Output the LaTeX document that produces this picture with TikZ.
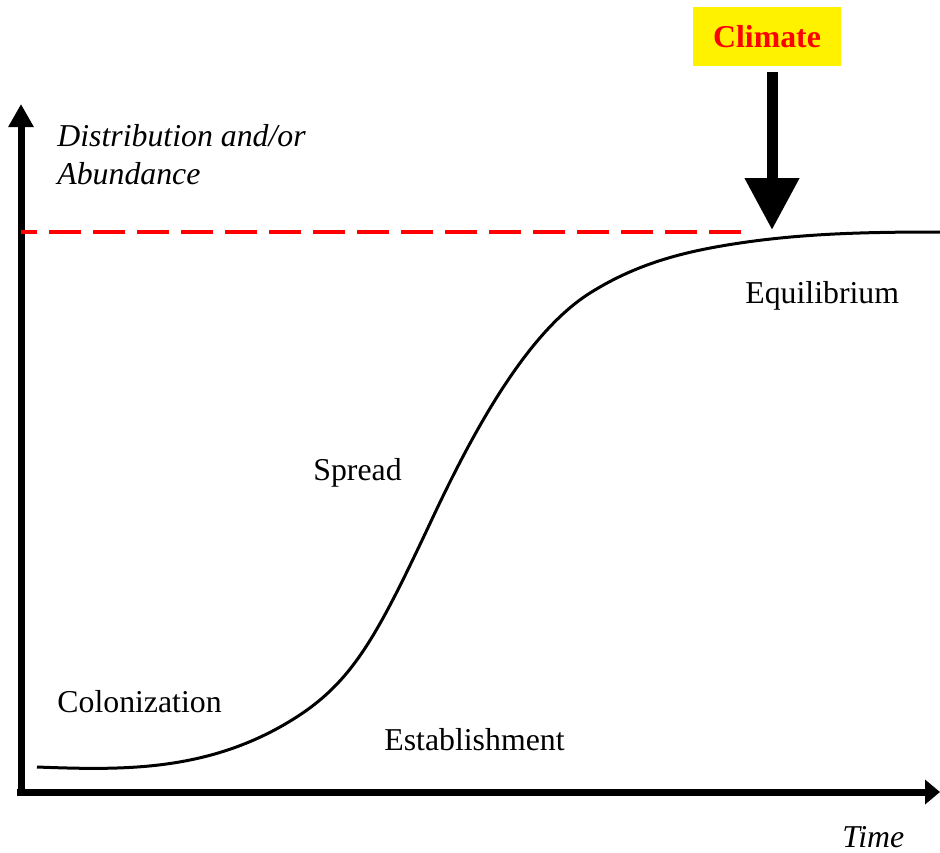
\documentclass[tikz,border=0pt]{standalone}
\usepackage{fontspec}
\setmainfont{Liberation Serif}
\usetikzlibrary{arrows.meta}

\begin{document}
\begin{tikzpicture}[x=0.5pt,y=-0.5pt]
  \tikzset{lbl/.style={anchor=base west, inner sep=0pt, font=\fontsize{15.9}{19}\selectfont},
           axisline/.style={line width=3.5pt}}
  \useasboundingbox (0,0) rectangle (940,852);
  % axes
  \coordinate (origin) at (21,792);
  \coordinate (ytip) at (21,104);
  \coordinate (xtip) at (940,792);
  \draw[axisline, -{Triangle[length=11.5pt,width=12pt]}] ([yshift=-2pt]origin) -- (ytip);
  \draw[axisline, -{Triangle[length=7.5pt,width=12pt]}] ([xshift=-2pt]origin) -- (xtip);
  \node[lbl, font=\fontsize{15.9}{19}\selectfont\itshape] (ylab1) at (57,146) {Distribution and/or};
  \node[lbl, font=\fontsize{15.9}{19}\selectfont\itshape] (ylab2) at (57,184) {Abundance};
  \node[lbl, font=\fontsize{15.9}{19}\selectfont\itshape] (xlab) at (842,847) {Time};
  % equilibrium level
  \coordinate (lvlstart) at (21,232);
  \coordinate (lvlend) at (741,232);
  \draw[red, line width=2pt, dash pattern=on 16pt off 6pt, dash phase=8pt] (lvlstart) -- (lvlend);
  % growth curve
  \draw[line width=1.5pt] (37,767) .. controls (118,770) and (199,772) .. (280,727)
    .. controls (350,687.8) and (373,644.8) .. (433,517)
    .. controls (478,421.2) and (530,330.8) .. (590,293)
    .. controls (640,261.5) and (690,250.5) .. (740,243)
    .. controls (807,233) and (873,232) .. (940,232);
  % phases
  \node[lbl] (colon) at (57,712) {Colonization};
  \node[lbl] (estab) at (384,750) {Establishment};
  \node[lbl] (spread) at (313,480) {Spread};
  \node[lbl] (equil) at (745,303) {Equilibrium};
  % climate
  \node[fill=yellow, minimum width=74pt, minimum height=29.5pt, inner sep=0pt, text=red,
        font=\fontsize{15.9}{19}\selectfont\bfseries] (climate) at (767,36.5) {Climate};
  \coordinate (hit) at (772,230);
  \draw[line width=5.5pt, shorten <=3pt, -{Triangle[length=26pt,width=26pt]}] (climate.south -| hit) -- (hit);
\end{tikzpicture}
\end{document}
